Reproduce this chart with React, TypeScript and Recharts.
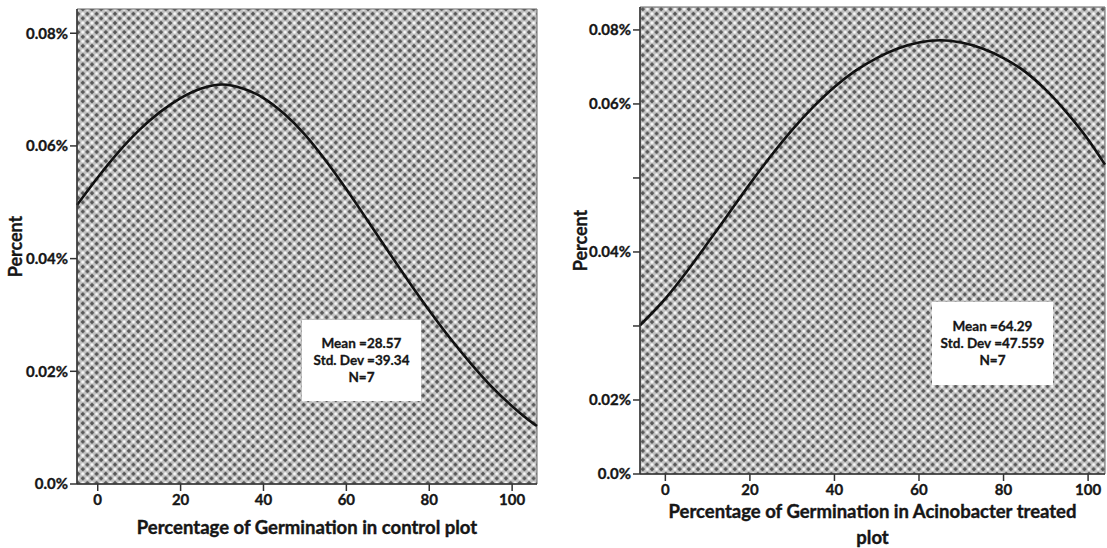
import { CartesianGrid, Label, Line, LineChart, XAxis, YAxis } from 'recharts'

// control plot: percent density
const controlX = [-5, 0, 5, 10, 15, 20, 25, 30, 35, 40, 45, 50, 55, 60, 65, 70, 75, 80, 85, 90, 95, 100, 105, 106]
const controlPct = [
  0.0495, 0.0544, 0.0589, 0.0628, 0.066, 0.0685, 0.0702, 0.0709, 0.0702, 0.0685, 0.0657, 0.062,
  0.0574, 0.0523, 0.0469, 0.0414, 0.036, 0.0308, 0.0259, 0.0214, 0.0173, 0.0138, 0.0108, 0.0103,
]
const controlYTicks = [0, 0.02, 0.04, 0.06, 0.08]
const controlYLabels = ['0.0%', '0.02%', '0.04%', '0.06%', '0.08%']
const controlStats = ['Mean =28.57', 'Std. Dev =39.34', 'N=7']

// treated plot: the y axis is in tick steps (labels are uneven in the source)
const treatedX = [-6, 0, 5, 10, 15, 20, 25, 30, 35, 40, 45, 50, 55, 60, 65, 70, 75, 80, 85, 90, 95, 100, 104]
const treatedY = [
  2.01, 2.37, 2.73, 3.12, 3.52, 3.92, 4.3, 4.65, 4.96, 5.23, 5.45, 5.62, 5.75, 5.83, 5.86, 5.83,
  5.75, 5.62, 5.44, 5.19, 4.88, 4.52, 4.18,
]
const treatedYTicks = [0, 1, 2, 3, 4, 5, 6]
const treatedYLabels = ['0.0%', '0.02%', '', '0.04%', '', '0.06%', '0.08%']
const treatedStats = ['Mean =64.29', 'Std. Dev =47.559', 'N=7']

const xTicks = [0, 20, 40, 60, 80, 100]

const FONT = 'Lato, "Open Sans", sans-serif'
const INK = '#161616'

const controlData = controlX.map((x, i) => ({ x, y: controlPct[i] }))
const treatedData = treatedX.map((x, i) => ({ x, y: treatedY[i] }))

const tickStyle = { fill: INK, stroke: INK, strokeWidth: 0.35, fontSize: 15, fontWeight: 700, fontFamily: FONT }

function Hatch() {
  return (
    <svg width={0} height={0} style={{ position: 'absolute' }}>
      <defs>
        <pattern id="hatch" patternUnits="userSpaceOnUse" width={9.2} height={9.2}>
          <rect width={9.2} height={9.2} fill="#c2c2c2" />
          <circle cx={4.6} cy={0} r={1.6} fill="#f8f8f8" />
          <circle cx={4.6} cy={9.2} r={1.6} fill="#f8f8f8" />
          <circle cx={0} cy={4.6} r={1.6} fill="#f8f8f8" />
          <circle cx={9.2} cy={4.6} r={1.6} fill="#f8f8f8" />
          <polygon points="4.6,2.3 6.9,4.6 4.6,6.9 2.3,4.6" fill="#575757" />
          <polygon points="0,-2.3 2.3,0 0,2.3 -2.3,0" fill="#575757" />
          <polygon points="9.2,-2.3 11.5,0 9.2,2.3 6.9,0" fill="#575757" />
          <polygon points="0,6.9 2.3,9.2 0,11.5 -2.3,9.2" fill="#575757" />
          <polygon points="9.2,6.9 11.5,9.2 9.2,11.5 6.9,9.2" fill="#575757" />
        </pattern>
      </defs>
    </svg>
  )
}

function StatsBox({ lines, left, top, width, height }: { lines: string[]; left: number; top: number; width: number; height: number }) {
  return (
    <div
      style={{
        position: 'absolute',
        left,
        top,
        width,
        height,
        background: '#fff',
        display: 'flex',
        flexDirection: 'column',
        justifyContent: 'center',
        alignItems: 'center',
        fontFamily: FONT,
        fontWeight: 700,
        fontSize: 13.5,
        lineHeight: '17px',
        color: INK,
        WebkitTextStroke: '0.3px #161616',
      }}
    >
      {lines.map(l => (
        <div key={l}>{l}</div>
      ))}
    </div>
  )
}

const border = {
  horizontalCoordinatesGenerator: ({ offset }: any) => [offset.top, offset.top + offset.height],
  verticalCoordinatesGenerator: ({ offset }: any) => [offset.left, offset.left + offset.width],
}

function PercentLabel({ viewBox, cx }: any) {
  const cy = viewBox.y + viewBox.height / 2
  return (
    <text
      x={cx}
      y={cy}
      transform={`rotate(-90 ${cx} ${cy})`}
      textAnchor="middle"
      dominantBaseline="central"
      style={{ fill: INK, stroke: INK, strokeWidth: 0.35, fontSize: 18, fontWeight: 700, fontFamily: FONT }}
    >
      Percent
    </text>
  )
}

function XTitle({ viewBox, lines, dy }: any) {
  const cx = viewBox.x + viewBox.width / 2
  return (
    <text
      textAnchor="middle"
      style={{ fill: INK, stroke: INK, strokeWidth: 0.4, fontSize: 18.5, fontWeight: 700, fontFamily: FONT }}
    >
      {lines.map((l: string, i: number) => (
        <tspan key={l} x={cx} y={viewBox.y + dy + i * 26}>
          {l}
        </tspan>
      ))}
    </text>
  )
}

export default function App() {
  return (
    <div style={{ position: 'absolute', left: 0, top: 0, width: 1107, height: 548, background: '#fff' }}>
      <Hatch />
      <div style={{ position: 'absolute', left: 0, top: 0 }}>
        <LineChart width={560} height={548} data={controlData} margin={{ top: 9, right: 23, bottom: 34, left: 17 }}>
          <CartesianGrid fill="url(#hatch)" fillOpacity={1} stroke="#666" {...border} />
          <XAxis
            dataKey="x"
            type="number"
            domain={[-5, 106]}
            ticks={xTicks}
            height={30}
            tickSize={7}
            tickMargin={3}
            tick={tickStyle}
            axisLine={{ stroke: '#333', strokeWidth: 1.5 }}
            tickLine={{ stroke: '#333', strokeWidth: 1.5 }}
          >
            <Label content={(p: any) => <XTitle {...p} lines={['Percentage of Germination in control plot']} dy={50} />} />
          </XAxis>
          <YAxis
            type="number"
            domain={[0, 0.0843]}
            ticks={controlYTicks}
            tickFormatter={(v: number) => controlYLabels[controlYTicks.indexOf(v)]}
            width={60}
            tickSize={7}
            tickMargin={2}
            tick={tickStyle}
            axisLine={{ stroke: '#333', strokeWidth: 1.5 }}
            tickLine={{ stroke: '#333', strokeWidth: 1.5 }}
          >
            <Label content={(p: any) => <PercentLabel {...p} cx={15} />} />
          </YAxis>
          <Line dataKey="y" type="monotone" stroke="#111" strokeWidth={2.6} dot={false} isAnimationActive={false} />
        </LineChart>
        <StatsBox lines={controlStats} left={302} top={320} width={119} height={81} />
      </div>
      <div style={{ position: 'absolute', left: 560, top: 0 }}>
        <LineChart width={547} height={548} data={treatedData} margin={{ top: 7, right: 2, bottom: 44, left: 20 }}>
          <CartesianGrid fill="url(#hatch)" fillOpacity={1} stroke="#666" {...border} />
          <XAxis
            dataKey="x"
            type="number"
            domain={[-6, 104]}
            ticks={xTicks}
            height={30}
            tickSize={7}
            tickMargin={3}
            tick={tickStyle}
            axisLine={{ stroke: '#333', strokeWidth: 1.5 }}
            tickLine={{ stroke: '#333', strokeWidth: 1.5 }}
          >
            <Label
              content={(p: any) => (
                <XTitle {...p} lines={['Percentage of Germination in Acinobacter treated', 'plot']} dy={44} />
              )}
            />
          </XAxis>
          <YAxis
            type="number"
            domain={[0, 6.31]}
            ticks={treatedYTicks}
            tickFormatter={(v: number) => treatedYLabels[v]}
            width={60}
            tickSize={7}
            tickMargin={2}
            tick={tickStyle}
            axisLine={{ stroke: '#333', strokeWidth: 1.5 }}
            tickLine={{ stroke: '#333', strokeWidth: 1.5 }}
          >
            <Label content={(p: any) => <PercentLabel {...p} cx={20} />} />
          </YAxis>
          <Line dataKey="y" type="monotone" stroke="#111" strokeWidth={2.6} dot={false} isAnimationActive={false} />
        </LineChart>
        <StatsBox lines={treatedStats} left={372} top={302} width={121} height={83} />
      </div>
    </div>
  )
}
